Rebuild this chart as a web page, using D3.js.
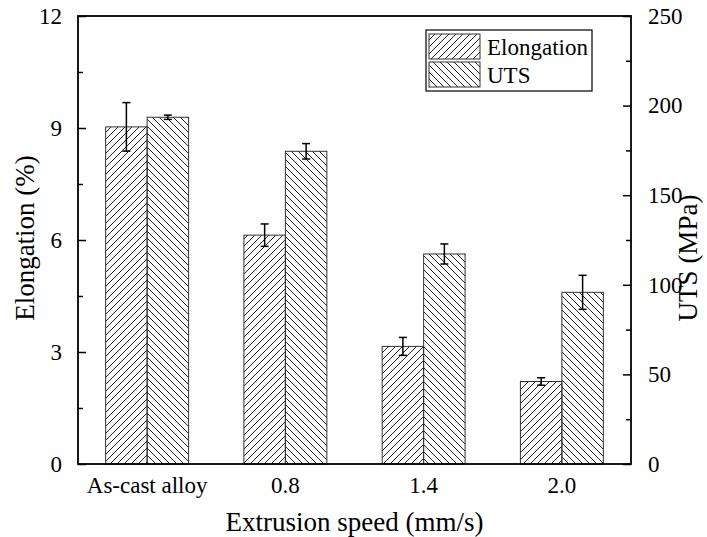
<!DOCTYPE html>
<html>
<head>
<meta charset="utf-8">
<script src="https://cdn.jsdelivr.net/npm/d3@7"></script>
<style>
  body { margin: 0; background: #fff; }
  svg text { font-family: "Liberation Serif", "Times New Roman", Tinos, "DejaVu Serif", serif !important; fill: #000; }
</style>
</head>
<body>
<script>
// chart data
var categories = ['As-cast alloy', '0.8', '1.4', '2.0'];
var elongation = [9.03, 6.13, 3.15, 2.21];
var elongationErr = [0.65, 0.30, 0.24, 0.10];
var uts = [193.5, 174.5, 117.2, 95.8];
var utsErr = [1.2, 4.3, 5.6, 9.5];
var leftTicks = [0, 3, 6, 9, 12];
var rightTicks = [0, 50, 100, 150, 200, 250];

var w = 707, h = 537;
var m = { left: 78, right: 631, top: 16, bottom: 464 };

var svg = d3.select('body').append('svg')
    .attr('width', w)
    .attr('height', h);

var defs = svg.append('defs');
function hatch(id, d) {
    defs.append('pattern')
        .attr('id', id)
        .attr('patternUnits', 'userSpaceOnUse')
        .attr('width', 7).attr('height', 7)
      .append('path')
        .attr('d', d)
        .attr('stroke', '#222')
        .attr('stroke-width', 1)
        .attr('fill', 'none');
}
hatch('hatchA', 'M0,7L7,0M-1,1L1,-1M6,8L8,6');
hatch('hatchB', 'M0,0L7,7M-1,6L1,8M6,-1L8,1');

var x = d3.scaleBand().domain(categories).range([m.left, m.right]).paddingInner(0.4).paddingOuter(0.2);
var yL = d3.scaleLinear().domain([0, 12]).range([m.bottom, m.top]);
var yR = d3.scaleLinear().domain([0, 250]).range([m.bottom, m.top]);
var bw = x.step() * 0.3;
function cx(d) { return x(d) + x.bandwidth() / 2; }

// bars
var series = [
    { vals: elongation, err: elongationErr, y: yL, fill: 'url(#hatchA)', off: -bw },
    { vals: uts, err: utsErr, y: yR, fill: 'url(#hatchB)', off: 0 }
];
series.forEach(function(s) {
    var g = svg.append('g');
    g.selectAll('rect')
        .data(categories)
        .enter()
        .append('rect')
        .attr('x', function(d) { return cx(d) + s.off; })
        .attr('y', function(d, i) { return s.y(s.vals[i]); })
        .attr('width', bw)
        .attr('height', function(d, i) { return m.bottom - s.y(s.vals[i]); })
        .attr('fill', s.fill)
        .attr('stroke', '#333')
        .attr('stroke-width', 1);
});

// error bars
series.forEach(function(s) {
    var g = svg.append('g').attr('stroke', '#000').attr('stroke-width', 1.5);
    categories.forEach(function(d, i) {
        var xc = cx(d) + s.off + bw / 2;
        var hi = s.y(s.vals[i] + s.err[i]), lo = s.y(s.vals[i] - s.err[i]);
        g.append('line').attr('x1', xc).attr('x2', xc).attr('y1', hi).attr('y2', lo);
        g.append('line').attr('x1', xc - 4).attr('x2', xc + 4).attr('y1', hi).attr('y2', hi);
        g.append('line').attr('x1', xc - 4).attr('x2', xc + 4).attr('y1', lo).attr('y2', lo);
    });
});

// frame
svg.append('rect')
    .attr('x', m.left).attr('y', m.top)
    .attr('width', m.right - m.left).attr('height', m.bottom - m.top)
    .attr('fill', 'none').attr('stroke', '#000').attr('stroke-width', 1.8);

// left axis (ticks inward)
var axL = d3.axisLeft(yL).tickValues(leftTicks).tickSize(-8).tickPadding(16);
svg.append('g').attr('transform', 'translate(' + m.left + ',0)').call(axL);
var axLm = d3.axisLeft(yL).tickValues([1.5, 4.5, 7.5, 10.5]).tickSize(-5).tickFormat('');
svg.append('g').attr('transform', 'translate(' + m.left + ',0)').call(axLm);

// right axis
var axR = d3.axisRight(yR).tickValues(rightTicks).tickSize(-8).tickPadding(17);
svg.append('g').attr('transform', 'translate(' + m.right + ',0)').call(axR);
var axRm = d3.axisRight(yR).tickValues([25, 75, 125, 175, 225]).tickSize(-5).tickFormat('');
svg.append('g').attr('transform', 'translate(' + m.right + ',0)').call(axRm);

// bottom labels
var axB = d3.axisBottom(x).tickSize(0).tickPadding(13);
svg.append('g').attr('transform', 'translate(0,' + m.bottom + ')').call(axB);

svg.selectAll('.domain').remove();
svg.selectAll('g').attr('font-family', null);
svg.selectAll('.tick line').attr('stroke', '#000').attr('stroke-width', 1.5);
svg.selectAll('.tick text')
    .style('font-size', '23px')
    .attr('fill', '#000');

// axis titles
svg.append('text')
    .attr('transform', 'translate(34,238) rotate(-90)')
    .attr('text-anchor', 'middle')
    .style('font-size', '27px')
    .text('Elongation (%)');
svg.append('text')
    .attr('transform', 'translate(697,258) rotate(-90)')
    .attr('text-anchor', 'middle')
    .style('font-size', '27px')
    .text('UTS (MPa)');
svg.append('text')
    .attr('x', (m.left + m.right) / 2)
    .attr('y', 531)
    .attr('text-anchor', 'middle')
    .style('font-size', '27px')
    .text('Extrusion speed (mm/s)');

// legend
var leg = svg.append('g');
leg.append('rect')
    .attr('x', 426).attr('y', 30).attr('width', 166).attr('height', 61)
    .attr('fill', '#fff').attr('stroke', '#000').attr('stroke-width', 1.2);
var legItems = [
    { label: 'Elongation', fill: 'url(#hatchA)' },
    { label: 'UTS', fill: 'url(#hatchB)' }
];
legItems.forEach(function(d, i) {
    leg.append('rect')
        .attr('x', 429).attr('y', 34 + i * 28)
        .attr('width', 51).attr('height', 25)
        .attr('fill', d.fill)
        .attr('stroke', '#333').attr('stroke-width', 1);
    leg.append('text')
        .attr('x', 487).attr('y', 55 + i * 28)
        .style('font-size', '23px')
        .text(d.label);
});
</script>
</body>
</html>
